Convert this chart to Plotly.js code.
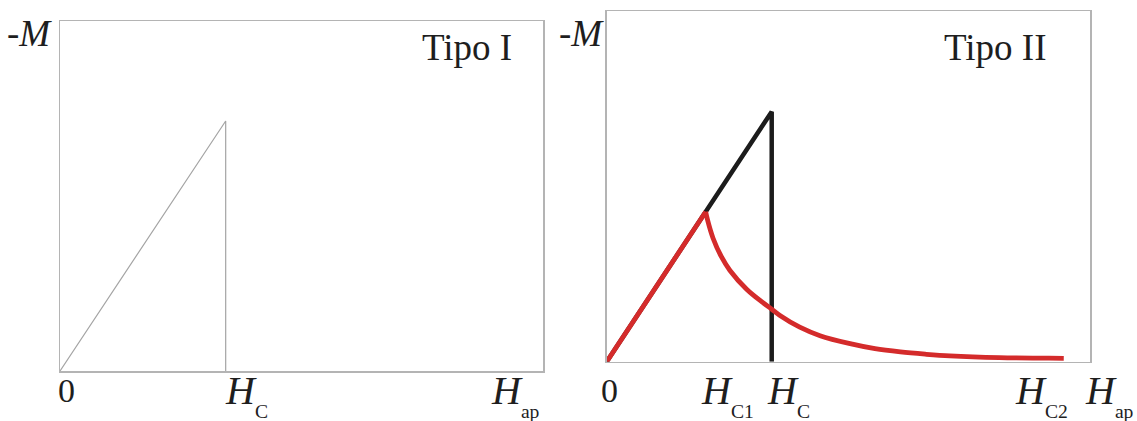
<!DOCTYPE html>
<html>
<head>
<meta charset="utf-8">
<script src="https://cdn.plot.ly/plotly-3.0.1.min.js"></script>
<style>
  html, body { margin: 0; padding: 0; background: #fff; }
  #chart { width: 1137px; height: 421px; }
</style>
</head>
<body>
<div id="chart"></div>
<script>
// Applied field in units of H_C, magnetisation (-M) in units of -M(H_C)

// Type I superconductor: perfect diamagnetism up to H_C, then collapse
const typeIField = [0, 1, 1];
const typeIMag = [0, 1, 0];

// Type II panel: the ideal type-I response (black) ...
const idealField = [0, 1, 1];
const idealMag = [0, 1, 0];
// ... and the mixed-state response (red): linear rise to H_C1, then decay towards H_C2
const riseField = [0, 0.6];
const riseMag = [0, 0.6];
const fallField = [0.6, 0.61, 0.644, 0.695, 0.747, 0.848, 0.947, 1.0, 1.05, 1.17, 1.293, 1.475, 1.626, 1.78, 1.93, 2.08, 2.38, 2.68, 2.77];
const fallMag = [0.6, 0.57, 0.495, 0.42, 0.365, 0.29, 0.236, 0.21, 0.185, 0.138, 0.104, 0.072, 0.052, 0.039, 0.03, 0.023, 0.016, 0.014, 0.013];

// Field marks below each panel
const leftMarkVals = [0, 1];
const leftMarkText = ['0', '<i>H</i><sub><sub>C</sub></sub>'];
const rightMarkVals = [0, 0.6, 1, 2.77];
const rightMarkText = ['0', '<i>H</i><sub><sub>C1</sub></sub>', '<i>H</i><sub><sub>C</sub></sub>', '<i>H</i><sub><sub>C2</sub></sub>'];
const panelTitles = ['Tipo I', 'Tipo II'];
const magLabel = '-<i>M</i>';
const fieldLabel = '<i>H</i><sub><sub>ap</sub></sub>';

const W = 1137, H = 421;
const serif = 'Liberation Serif, Times New Roman, serif';
const ink = '#1e1e1e';
const frame = '#b4b4b4';
const red = '#d42b2b';

const py = p => 1 - p / H;   // pixel row -> paper y
const px = p => p / W;       // pixel column -> paper x

const traces = [
  { x: typeIField, y: typeIMag, xaxis: 'x', yaxis: 'y', mode: 'lines',
    line: { color: '#a4a4a4', width: 1.2 }, hoverinfo: 'skip' },
  { x: idealField, y: idealMag, xaxis: 'x2', yaxis: 'y2', mode: 'lines',
    line: { color: '#1c1c1c', width: 4.5 }, hoverinfo: 'skip' },
  { x: riseField, y: riseMag, xaxis: 'x2', yaxis: 'y2', mode: 'lines',
    line: { color: red, width: 4.8 }, hoverinfo: 'skip' },
  { x: fallField, y: fallMag, xaxis: 'x2', yaxis: 'y2', mode: 'lines',
    line: { color: red, width: 4.8, shape: 'spline', smoothing: 1 }, hoverinfo: 'skip' }
];

const axisBase = {
  showline: true, mirror: true, linecolor: frame, linewidth: 1.5,
  showgrid: false, zeroline: false, ticks: '', showticklabels: false, fixedrange: true
};

const annotations = [];
function addText(text, xref, x, yTopPx, size, anchor, xshift) {
  annotations.push({
    text: text, xref: xref, x: x, yref: 'paper', y: py(yTopPx),
    xanchor: anchor, yanchor: 'top', showarrow: false, xshift: xshift || 0,
    font: { family: serif, size: size, color: ink }, borderpad: 0
  });
}

// marks under the left panel
addText(leftMarkText[0], 'x', leftMarkVals[0], 371, 34, 'left', -3);
addText(leftMarkText[1], 'x', leftMarkVals[1], 367, 40, 'left', -2);
addText(fieldLabel, 'paper', px(541), 367, 40, 'right');
// marks under the right panel
addText(rightMarkText[0], 'x2', rightMarkVals[0], 371, 34, 'left', -7);
addText(rightMarkText[1], 'x2', rightMarkVals[1], 367, 40, 'left', -6);
addText(rightMarkText[2], 'x2', rightMarkVals[2], 367, 40, 'left', -6);
addText(rightMarkText[3], 'x2', rightMarkVals[3], 367, 40, 'right', 5);
addText(fieldLabel, 'paper', px(1135), 367, 40, 'right');
// magnetisation labels
addText(magLabel, 'paper', px(6), 12, 37, 'left');
addText(magLabel, 'paper', px(558), 12, 37, 'left');
// panel titles
addText(panelTitles[0], 'paper', px(513), 26, 37, 'right');
addText(panelTitles[1], 'paper', px(1047), 26, 37, 'right');

const layout = {
  width: W, height: H,
  margin: { l: 0, r: 0, t: 0, b: 0 },
  paper_bgcolor: '#fff', plot_bgcolor: '#fff',
  showlegend: false,
  xaxis: Object.assign({}, axisBase, { domain: [px(60), px(543)], range: [0, 2.915], anchor: 'y' }),
  yaxis: Object.assign({}, axisBase, { domain: [py(371), py(21)], range: [0, 1.40], anchor: 'x' }),
  xaxis2: Object.assign({}, axisBase, { domain: [px(606.7), px(1090)], range: [0, 2.929], anchor: 'y2' }),
  yaxis2: Object.assign({}, axisBase, { domain: [py(361.7), py(11)], range: [0, 1.403], anchor: 'x2' }),
  annotations: annotations
};

Plotly.newPlot('chart', traces, layout, { staticPlot: true, displayModeBar: false });
</script>
</body>
</html>
